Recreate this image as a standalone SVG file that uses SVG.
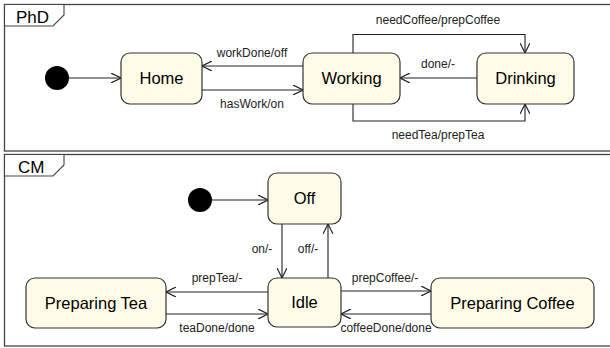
<svg xmlns="http://www.w3.org/2000/svg" width="610" height="348" viewBox="0 0 610 348">
<defs>
<marker id="arr" viewBox="0 0 10 10" refX="10" refY="5" markerWidth="10" markerHeight="10" markerUnits="userSpaceOnUse" orient="auto">
<path d="M0,0 L10,5 L0,10" fill="none" stroke="#222" stroke-width="1.2"/>
</marker>
<style>
.frame{fill:none;stroke:#444;stroke-width:1.3}
.tab{fill:#fff;stroke:#444;stroke-width:1.1}
.state{fill:#fefbe6;stroke:#333;stroke-width:1.2}
.init{fill:#000}
.edge{fill:none;stroke:#222;stroke-width:1.1;marker-end:url(#arr)}
.ft{font-family:"Liberation Sans",Arial,sans-serif;font-size:17px;fill:#000}
.st{font-family:"Liberation Sans",Arial,sans-serif;font-size:16.5px;fill:#000;text-anchor:middle}
.lb{font-family:"Liberation Sans",Arial,sans-serif;font-size:12px;fill:#222;text-anchor:middle}
</style>
</defs>
<g id="frame-phd">
<rect class="frame" x="4.5" y="4.5" width="620" height="146.5"/>
<path class="tab" d="M4.5,4.5 H64 V15 L53,26 H4.5 Z"/>
<text class="ft" x="16" y="22.5">PhD</text>
</g>
<g id="frame-cm">
<rect class="frame" x="4.5" y="154.5" width="620" height="191.5"/>
<path class="tab" d="M4.5,154.5 H64 V165 L53,176 H4.5 Z"/>
<text class="ft" x="18" y="172.5">CM</text>
</g>
<g id="connectors">
<line class="edge" x1="69" y1="78" x2="121" y2="78"/>
<line class="edge" x1="303" y1="66" x2="202" y2="66"/>
<line class="edge" x1="202" y1="90" x2="303" y2="90"/>
<line class="edge" x1="477" y1="78" x2="400" y2="78"/>
<polyline class="edge" points="353,53 353,34.5 525,34.5 525,53"/>
<polyline class="edge" points="353,104 353,121 525,121 525,104"/>
<line class="edge" x1="212" y1="200" x2="268" y2="200"/>
<line class="edge" x1="282" y1="224" x2="282" y2="278"/>
<line class="edge" x1="328" y1="278" x2="328" y2="224"/>
<line class="edge" x1="268" y1="292" x2="166" y2="292"/>
<line class="edge" x1="166" y1="314" x2="268" y2="314"/>
<line class="edge" x1="341" y1="291" x2="431" y2="291"/>
<line class="edge" x1="431" y1="314" x2="341" y2="314"/>
<text class="lb" x="252" y="57">workDone/off</text>
<text class="lb" x="252" y="108">hasWork/on</text>
<text class="lb" x="438" y="68">done/-</text>
<text class="lb" x="438" y="24">needCoffee/prepCoffee</text>
<text class="lb" x="438" y="139">needTea/prepTea</text>
<text class="lb" x="262" y="253">on/-</text>
<text class="lb" x="308" y="253">off/-</text>
<text class="lb" x="217" y="282">prepTea/-</text>
<text class="lb" x="217" y="332">teaDone/done</text>
<text class="lb" x="385" y="282">prepCoffee/-</text>
<text class="lb" x="386" y="332">coffeeDone/done</text>
</g>
<g id="init-phd"><circle class="init" cx="57" cy="78" r="12"/></g>
<g id="home"><rect class="state" x="121" y="53" width="81" height="51" rx="9"/><text class="st" x="161.5" y="84">Home</text></g>
<g id="working"><rect class="state" x="303" y="53" width="97" height="51" rx="9"/><text class="st" x="351.5" y="84">Working</text></g>
<g id="drinking"><rect class="state" x="477" y="53" width="97" height="51" rx="9"/><text class="st" x="525.5" y="84">Drinking</text></g>
<g id="init-cm"><circle class="init" cx="200" cy="200" r="12"/></g>
<g id="off"><rect class="state" x="268" y="173" width="73" height="51" rx="9"/><text class="st" x="304.5" y="204">Off</text></g>
<g id="idle"><rect class="state" x="268" y="278" width="73" height="49" rx="9"/><text class="st" x="304.5" y="308">Idle</text></g>
<g id="preparing-tea"><rect class="state" x="26" y="278" width="140" height="50" rx="9"/><text class="st" x="96" y="309">Preparing Tea</text></g>
<g id="preparing-coffee"><rect class="state" x="431" y="278" width="163" height="50" rx="9"/><text class="st" x="512.5" y="309">Preparing Coffee</text></g>
</svg>
